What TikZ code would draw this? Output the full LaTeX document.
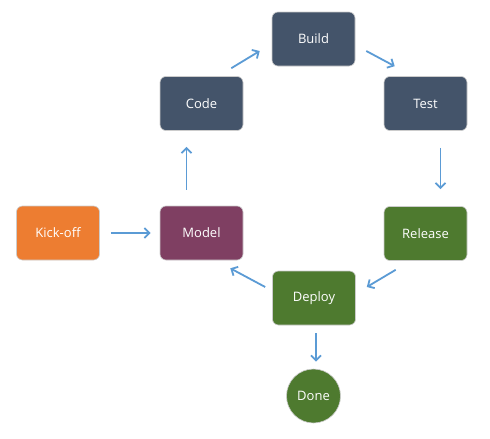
\documentclass[tikz,border=0pt]{standalone}
\usepackage{fontspec}
\setmainfont{Open Sans}
\usetikzlibrary{arrows.meta}
\definecolor{slate}{HTML}{44546A}
\definecolor{kick}{HTML}{ED7D31}
\definecolor{model}{HTML}{7F3F62}
\definecolor{grn}{HTML}{4E7A2F}
\definecolor{arr}{HTML}{5B9BD5}
\tikzset{
  lbl/.style={text=white, font=\fontsize{13}{15}\selectfont},
  box/.style={lbl, rounded corners=6pt, minimum width=83pt, minimum height=54pt, draw=white!80!black, line width=0.6pt, inner sep=0pt},
  flow/.style={draw=arr, line width=1.8pt, -{Straight Barb[length=5pt,width=10pt,line width=1.8pt]}}
}
\begin{document}
\begin{tikzpicture}[x=1pt,y=-1pt]
\useasboundingbox[fill=white] (0,0) rectangle (490,439);
\node[box, fill=slate] (build) at (313.5,39) {Build};
\node[box, fill=slate] (code) at (201.5,103.5) {Code};
\node[box, fill=slate] (test) at (425.5,103.5) {Test};
\node[box, fill=kick] (kick) at (58,233) {Kick-off};
\node[box, fill=model] (model) at (201.5,233) {Model};
\node[box, fill=grn] (release) at (425.5,233.5) {Release};
\node[box, fill=grn] (deploy) at (314,298) {Deploy};
\node[lbl, circle, fill=grn, draw=white!80!black, line width=0.6pt, minimum size=54pt, inner sep=0pt] (done) at (313.5,396) {Done};

\draw[flow] ([xshift=-12pt,yshift=8pt]code.north east) -- ([xshift=-12pt,yshift=-12pt]build.west);
\draw[flow] ([xshift=11pt,yshift=-12pt]build.east) -- ([xshift=11pt,yshift=10pt]test.north west);
\draw[flow] ([xshift=15pt,yshift=-17pt]test.south) -- ([xshift=15pt,yshift=17pt]release.north);
\draw[flow] ([xshift=12pt,yshift=-9pt]release.south west) -- ([xshift=11pt,yshift=11pt]deploy.east);
\draw[flow] ([xshift=-7pt,yshift=11pt]deploy.west) -- ([xshift=-13pt,yshift=-8pt]model.south east);
\draw[flow] ([xshift=-15pt,yshift=16pt]model.north) -- ([xshift=-15pt,yshift=-16pt]code.south);
\draw[flow, shorten <=11pt, shorten >=9pt] (kick.east) -- (model.west);
\draw[flow] ([xshift=2pt,yshift=-8pt]deploy.south) -- ([xshift=2.5pt,yshift=7pt]done.north);
\end{tikzpicture}
\end{document}
